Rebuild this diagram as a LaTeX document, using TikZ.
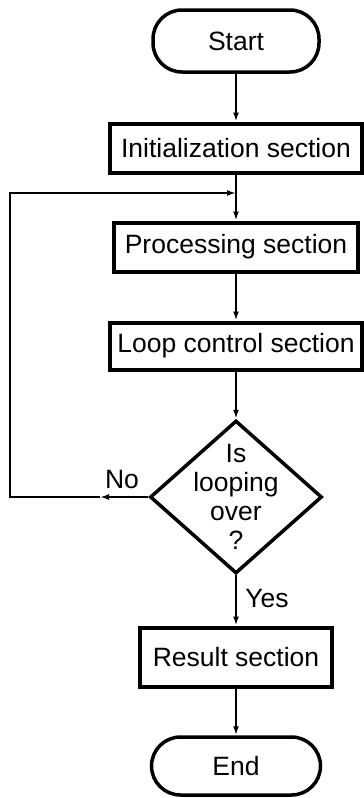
\documentclass[tikz,border=0pt]{standalone}
\usepackage{fontspec}
\setmainfont{Liberation Sans}
\usetikzlibrary{arrows.meta,shapes.geometric}
\begin{document}
\begin{tikzpicture}[x=1pt,y=-1pt,
  txt/.style={font=\fontsize{26.5}{29}\selectfont},
  box/.style={txt, draw, line width=4pt, rectangle, inner sep=0pt},
  term/.style={txt, draw, line width=3.5pt, rectangle, rounded corners=29pt, inner sep=0pt},
  conn/.style={line width=2.4pt},
  arr/.style={conn, -{Latex[length=9pt,width=6pt]}}
]
\useasboundingbox[fill=white] (0,0) rectangle (364,798);

\node[term, minimum width=166pt, minimum height=62pt] (start) at (236,41) {Start};
\node[box, minimum width=252pt, minimum height=49pt] (init) at (236,148) {Initialization section};
\node[box, minimum width=244pt, minimum height=49pt] (proc) at (236,247) {Processing section};
\node[box, minimum width=252pt, minimum height=47pt] (loopc) at (236,346) {Loop control section};
\node[draw, diamond, line width=3.5pt, minimum width=172pt, minimum height=153pt, inner sep=0pt] (dec) at (236,497) {};
\node[txt, align=center, inner sep=0pt] (dtext) at (dec) {Is\\looping\\over\\?};
\node[box, minimum width=192pt, minimum height=59pt] (res) at (236,657) {Result section};
\node[term, minimum width=169pt, minimum height=58pt] (fin) at (236,766) {End};

\node[txt] (nolab) at (122,480) {No};
\node[txt] (yeslab) at (267,599) {Yes};

\coordinate (join) at (236,193);
\coordinate (nomark) at (100,497);
\coordinate (loopL) at (10,497);

\draw[arr] (start) -- (init);
\draw[conn] (init) -- (join);
\draw[arr] (join) -- (proc);
\draw[arr] (proc) -- (loopc);
\draw[arr] (loopc) -- (dec);
\draw[arr] (dec) -- (res);
\draw[arr] (res) -- (fin);
\draw[arr] (dec.west) -- (nomark);
\draw[arr] (nomark) -- (loopL) |- (join);
\end{tikzpicture}
\end{document}
